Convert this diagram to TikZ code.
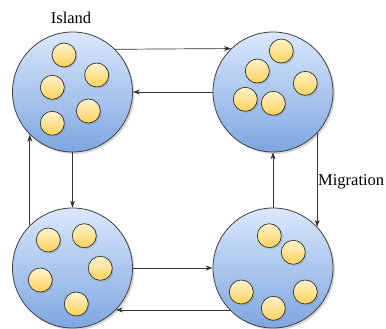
\documentclass[tikz,border=0pt]{standalone}
\usepackage{fontspec}
\setmainfont{Liberation Serif}
\usetikzlibrary{arrows.meta,shadows}
\begin{document}
\begin{tikzpicture}[x=1pt,y=-1pt,
  island/.style={circle,draw=black!75,line width=0.8pt,minimum size=120pt,inner sep=0pt,
    top color={rgb,255:red,218;green,232;blue,252},bottom color={rgb,255:red,126;green,166;blue,224},
    drop shadow={shadow xshift=2pt,shadow yshift=-2pt,opacity=0.3}},
  indiv/.style={circle,draw=black!80,line width=0.7pt,minimum size=24pt,inner sep=0pt,
    top color={rgb,255:red,255;green,242;blue,204},bottom color={rgb,255:red,255;green,210;blue,90},
    drop shadow={shadow xshift=1.5pt,shadow yshift=-1.5pt,opacity=0.3}},
  mig/.style={draw=black!80,line width=0.7pt,-{Stealth[length=7pt,width=5pt]}},
  lbl/.style={font=\fontsize{16.5}{19}\selectfont,inner sep=0pt}]
\useasboundingbox (0,0) rectangle (386,329);
\fill[white] (0,0) rectangle (386,329);
% islands
\node[island] (tl) at (72.5,92) {};
\node[island] (tr) at (273,92) {};
\node[island] (bl) at (72.5,268) {};
\node[island] (br) at (273,268) {};
% individuals TL
\node[indiv] (a1) at (64,55) {};
\node[indiv] (a2) at (96.7,75) {};
\node[indiv] (a3) at (52.3,87.3) {};
\node[indiv] (a4) at (88.3,111) {};
\node[indiv] (a5) at (52.3,123.3) {};
% TR
\node[indiv] (b1) at (281.3,51) {};
\node[indiv] (b2) at (257.3,71) {};
\node[indiv] (b3) at (305.3,83.3) {};
\node[indiv] (b4) at (245.3,99.3) {};
\node[indiv] (b5) at (273.3,103.3) {};
% BL
\node[indiv] (c1) at (48.3,240) {};
\node[indiv] (c2) at (84.3,235.7) {};
\node[indiv] (c3) at (100.3,268.3) {};
\node[indiv] (c4) at (40.3,280) {};
\node[indiv] (c5) at (76.3,304) {};
% BR
\node[indiv] (d1) at (269.3,235.7) {};
\node[indiv] (d2) at (293.3,252.3) {};
\node[indiv] (d3) at (241.3,292) {};
\node[indiv] (d4) at (305.3,292) {};
\node[indiv] (d5) at (273.3,308.3) {};
% labels
\node[lbl] (island) at (71,18) {Island};
\node[lbl,anchor=west] (migration) at (318,182) {Migration};
% connectors
\draw[mig] (tl.45.8) -- (tr.134.2);
\draw[mig] (tr.west) -- (tl.east);
\draw[mig] (tr.-43.8) -- (br.43.8);
\draw[mig] (br.north) -- (tr.south);
\draw[mig] (tl.south) -- (bl.north);
\draw[mig] (bl.135) -- (tl.225);
\draw[mig] (bl.east) -- (br.west);
\draw[mig] (br.224.4) -- (bl.-44.4);
\end{tikzpicture}
\end{document}
